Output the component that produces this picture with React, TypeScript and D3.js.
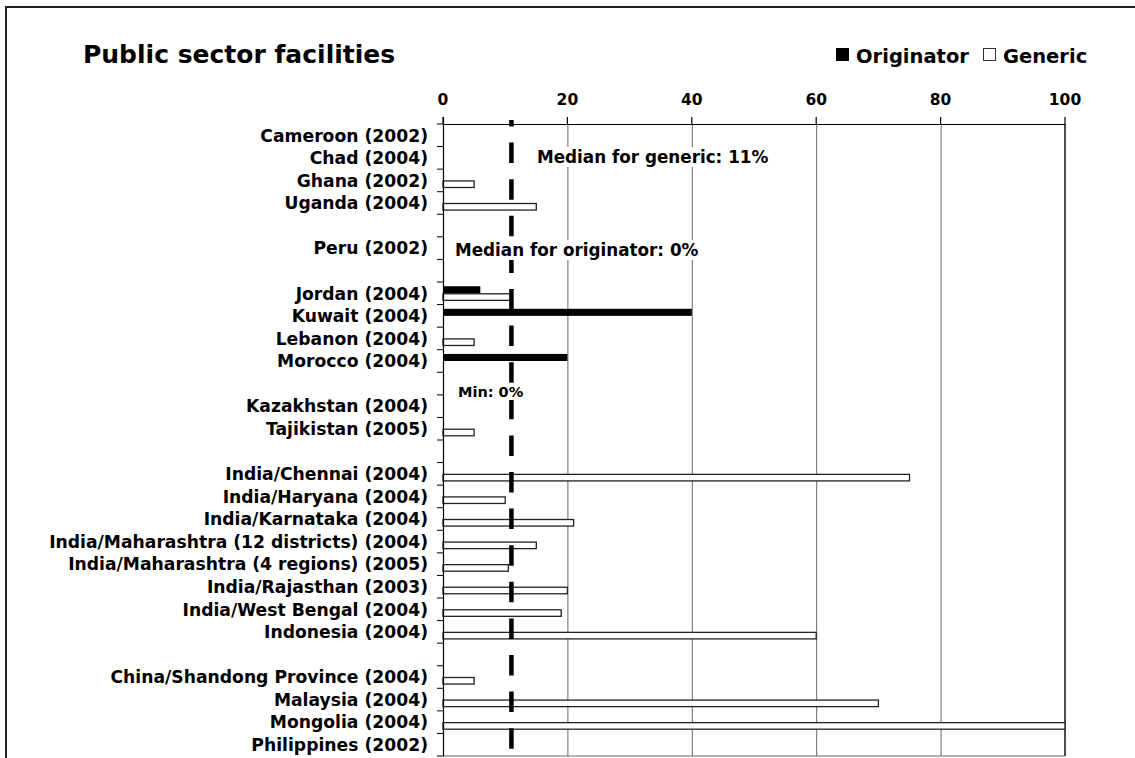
import React, { useEffect, useRef } from 'react'
import * as d3 from 'd3'

// rows from top to bottom, blank strings are the spacer rows between regions
const categories = [
  'Cameroon (2002)', 'Chad (2004)', 'Ghana (2002)', 'Uganda (2004)', '',
  'Peru (2002)', '',
  'Jordan (2004)', 'Kuwait (2004)', 'Lebanon (2004)', 'Morocco (2004)', '',
  'Kazakhstan (2004)', 'Tajikistan (2005)', '',
  'India/Chennai (2004)', 'India/Haryana (2004)', 'India/Karnataka (2004)',
  'India/Maharashtra (12 districts) (2004)', 'India/Maharashtra (4 regions) (2005)',
  'India/Rajasthan (2003)', 'India/West Bengal (2004)', 'Indonesia (2004)', '',
  'China/Shandong Province (2004)', 'Malaysia (2004)', 'Mongolia (2004)', 'Philippines (2002)'
]
const originator = [0, 0, 0, 0, 0, 0, 0, 6, 40, 0, 20, 0, 0, 0, 0, 0, 0, 0, 0, 0, 0, 0, 0, 0, 0, 0, 0, 0]
const generic = [0, 0, 5, 15, 0, 0, 0, 11, 0, 5, 0, 0, 0, 5, 0, 75, 10, 21, 15, 10.5, 20, 19, 60, 0, 5, 70, 100, 0]
const xTicks = [0, 20, 40, 60, 80, 100]
const medianGeneric = 11

const font = '"DejaVu Sans", Verdana, sans-serif'

export default function App() {
  const ref = useRef(null)

  useEffect(() => {
    const svg = d3.select(ref.current)
    svg.selectAll('*').remove()

    const x = d3.scaleLinear().domain([0, 100]).range([443, 1065])
    const y = d3.scaleBand().domain(categories.map((d, i) => String(i))).range([124, 756])
    const sub = d3.scaleBand().domain(['o', 'g']).range([0, y.bandwidth()]).paddingOuter(0.6)

    // outer frame
    svg.append('rect').attr('x', 6).attr('y', 7).attr('width', 1300).attr('height', 900)
      .attr('fill', 'white').attr('stroke', '#222').attr('stroke-width', 2)

    svg.append('text').attr('x', 83).attr('y', 63).text('Public sector facilities')
      .attr('font-family', font).attr('font-weight', 'bold').attr('font-size', 25)

    // legend
    svg.append('rect').attr('x', 836).attr('y', 48).attr('width', 13).attr('height', 13).attr('fill', 'black')
    svg.append('text').attr('x', 856).attr('y', 63).text('Originator')
      .attr('font-family', font).attr('font-weight', 'bold').attr('font-size', 19.5)
    svg.append('rect').attr('x', 983.5).attr('y', 48.5).attr('width', 12).attr('height', 12)
      .attr('fill', 'white').attr('stroke', '#333').attr('stroke-width', 1)
    svg.append('text').attr('x', 1003).attr('y', 63).text('Generic')
      .attr('font-family', font).attr('font-weight', 'bold').attr('font-size', 19.5)

    // gridlines
    svg.append('g').selectAll('line').data(xTicks.slice(1, -1)).join('line')
      .attr('x1', d => x(d) + 0.5).attr('x2', d => x(d) + 0.5).attr('y1', 124).attr('y2', 756)
      .attr('stroke', '#666').attr('stroke-width', 1)
    svg.append('line').attr('x1', x(100)).attr('x2', x(100)).attr('y1', 124).attr('y2', 756)
      .attr('stroke', '#111').attr('stroke-width', 1.5)
    svg.append('line').attr('x1', 443).attr('x2', 1065).attr('y1', 756).attr('y2', 756)
      .attr('stroke', '#666').attr('stroke-width', 1)

    // bars
    const rows = categories.map((c, i) => ({ key: String(i), o: originator[i], g: generic[i] }))
    svg.append('g').selectAll('rect').data(rows.filter(d => d.o > 0)).join('rect')
      .attr('x', x(0)).attr('y', d => y(d.key) + sub('o'))
      .attr('width', d => x(d.o) - x(0)).attr('height', sub.bandwidth())
      .attr('fill', 'black')
    svg.append('g').selectAll('rect').data(rows.filter(d => d.g > 0)).join('rect')
      .attr('x', x(0)).attr('y', d => y(d.key) + sub('g') + 0.5)
      .attr('width', d => x(d.g) - x(0)).attr('height', sub.bandwidth() - 0.5)
      .attr('fill', 'white').attr('stroke', '#222').attr('stroke-width', 1.3)

    // median line
    svg.append('line').attr('x1', x(medianGeneric)).attr('x2', x(medianGeneric))
      .attr('y1', 120).attr('y2', 752)
      .attr('stroke', 'black').attr('stroke-width', 4.5)
      .attr('stroke-dasharray', '20.5 16.1').attr('stroke-dashoffset', 14)

    // annotations with white boxes
    const notes = [
      { t: 'Median for generic: 11%', x: 537, y: 163, s: 16.8 },
      { t: 'Median for originator: 0%', x: 455, y: 256, s: 16.8 },
      { t: 'Min: 0%', x: 458, y: 397, s: 14.5 }
    ]
    notes.forEach(n => {
      const g = svg.append('g')
      const t = g.append('text').attr('x', n.x).attr('y', n.y).text(n.t)
        .attr('font-family', font).attr('font-weight', 'bold').attr('font-size', n.s)
      const b = (t.node() as SVGTextElement).getBBox()
      g.insert('rect', 'text').attr('x', b.x - 3).attr('y', b.y).attr('width', b.width + 6).attr('height', b.height)
        .attr('fill', 'white')
    })

    // top axis
    const top = svg.append('g')
    top.append('line').attr('x1', 443).attr('x2', 1065).attr('y1', 124.5).attr('y2', 124.5)
      .attr('stroke', 'black').attr('stroke-width', 1.2)
    top.selectAll('line.t').data(xTicks).join('line').attr('class', 't')
      .attr('x1', d => x(d)).attr('x2', d => x(d)).attr('y1', 117).attr('y2', 124.5)
      .attr('stroke', 'black').attr('stroke-width', 1.2)
    top.selectAll('text').data(xTicks).join('text')
      .attr('x', d => x(d)).attr('y', 105).attr('text-anchor', 'middle').text(d => d)
      .attr('font-family', font).attr('font-weight', 'bold').attr('font-size', 15.5)

    // left axis
    const left = svg.append('g')
    left.append('line').attr('x1', 443.5).attr('x2', 443.5).attr('y1', 117).attr('y2', 756)
      .attr('stroke', 'black').attr('stroke-width', 1.2)
    left.selectAll('line.t').data(d3.range(categories.length + 1)).join('line').attr('class', 't')
      .attr('x1', 437).attr('x2', 443.5)
      .attr('y1', i => 124 + i * y.step()).attr('y2', i => 124 + i * y.step())
      .attr('stroke', 'black').attr('stroke-width', 1)
    left.selectAll('text').data(rows).join('text')
      .attr('x', 428).attr('y', d => y(d.key) + y.bandwidth() / 2 + 6.3)
      .attr('text-anchor', 'end').text((d, i) => categories[i])
      .attr('font-family', font).attr('font-weight', 'bold').attr('font-size', 17.2)
  }, [])

  return (
    <svg ref={ref} width={1135} height={758}
      style={{ position: 'absolute', left: 0, top: 0, display: 'block', background: 'white' }} />
  )
}
